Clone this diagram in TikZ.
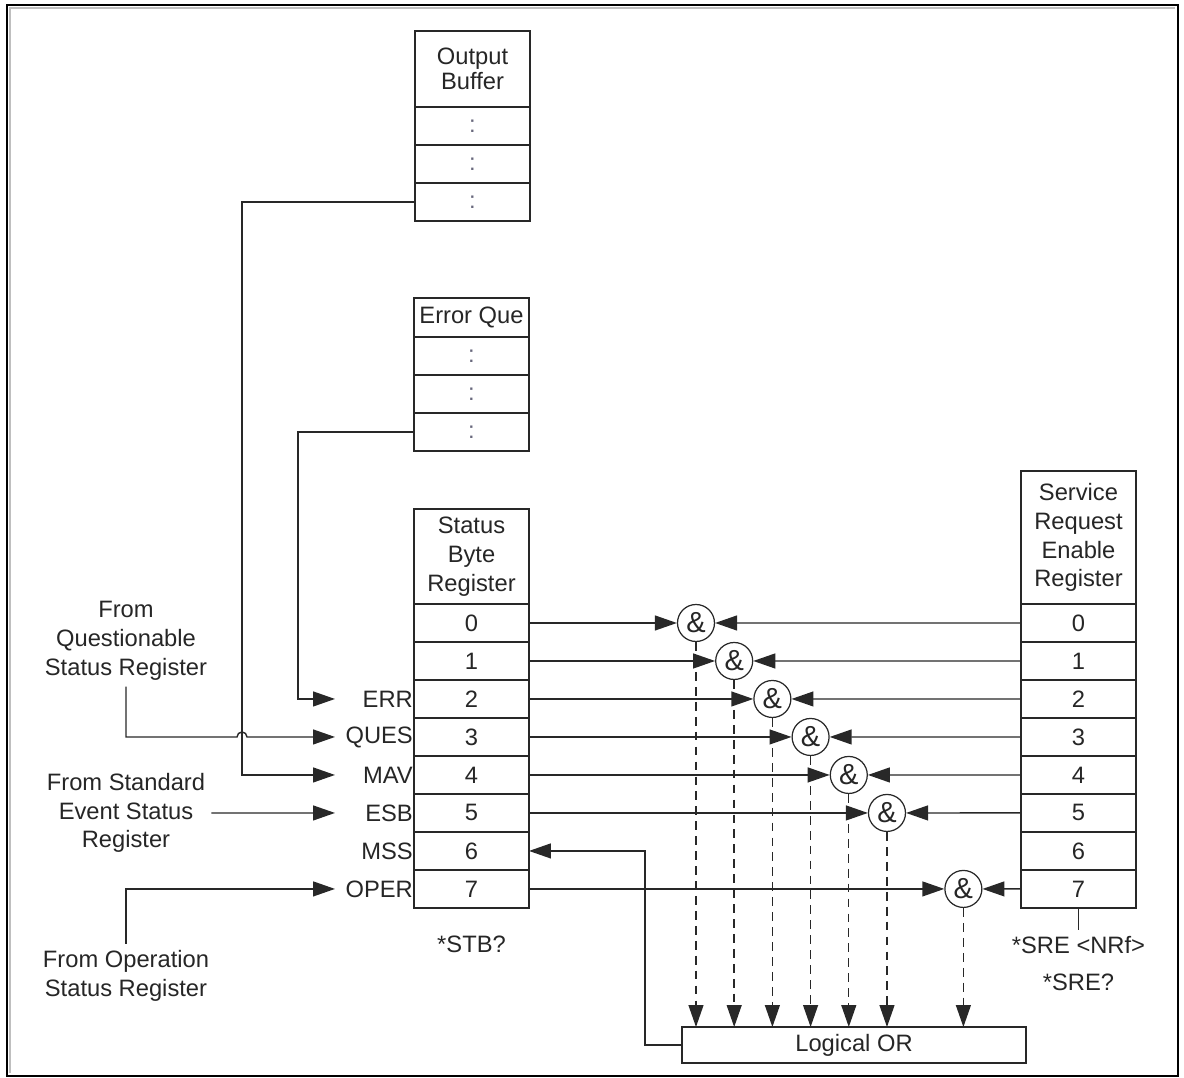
\documentclass[tikz,border=0pt]{standalone}
\usepackage{fontspec}
\setmainfont{Liberation Sans}
\usepackage{xcolor}
\usepackage{tikz}
\usetikzlibrary{arrows.meta,positioning,calc}
\definecolor{cLine}{RGB}{40,40,40}
\definecolor{cDots}{RGB}{105,105,125}
\newcommand{\dfont}{\fontsize{13.5pt}{16.4pt}\selectfont}
\tikzset{
  reg/.style={draw=cLine, line width=0.8pt, minimum width=23mm, minimum height=7.6mm,
              inner sep=0pt, outer sep=0pt, align=center, font=\dfont, text=black!85},
  andg/.style={draw=cLine, line width=0.7pt, circle, minimum size=7.4mm, inner sep=0pt,
              font=\fontsize{16.5pt}{18pt}\selectfont, text=black!85},
  wire/.style={draw=cLine, line width=0.8pt},
  arr/.style={wire, -{Triangle[length=12.5pt, width=8.5pt]}},
  darr/.style={arr, dash pattern=on 5pt off 3.5pt},
  lbl/.style={font=\dfont, text=black!85, align=center},
  bitlbl/.style={font=\dfont, text=black!85, anchor=east, inner sep=0.5pt},
}
\newcommand{\vd}{\textcolor{cDots}{:}}

\begin{document}
\begin{tikzpicture}[x=0.02cm, y=-0.02cm]
  \useasboundingbox (0,0) rectangle (1184,1078);
  % ---- frame ----
  \draw[black!25, line width=1pt] (10,1073) |- (1175,8);
  \draw[black, line width=1.2pt] (7,5) rectangle (1178,1076);

  % ---- output buffer / error queue ----
  \node[reg, minimum height=15.2mm, font=\fontsize{13.5pt}{14pt}\selectfont] (ob) at (472.5,69) {Output\\Buffer};
  \node[reg, below=0pt of ob] (ob1) {\vd};
  \node[reg, below=0pt of ob1] (ob2) {\vd};
  \node[reg, below=0pt of ob2] (ob3) {\vd};
  \node[reg, minimum height=7.8mm] (eq) at (471.5,317.5) {Error Que};
  \node[reg, below=0pt of eq] (eq1) {\vd};
  \node[reg, below=0pt of eq1] (eq2) {\vd};
  \node[reg, below=0pt of eq2] (eq3) {\vd};

  % ---- status byte register ----
  \node[reg, minimum height=19mm] (sb) at (471.5,556.5) {Status\\Byte\\Register};
  \node[reg, below=0pt of sb] (sb0) {0};
  \foreach \i [count=\j from 0] in {1,...,7}
    \node[reg, below=0pt of sb\j] (sb\i) {\i};
  \node[lbl, below=4.3mm of sb7] (stbq) {*STB?};

  % ---- service request enable register ----
  \node[reg, minimum height=26.6mm] (sre) at (1078.5,537.5) {Service\\Request\\Enable\\Register};
  \node[reg, below=0pt of sre] (sre0) {0};
  \foreach \i [count=\j from 0] in {1,...,7}
    \node[reg, below=0pt of sre\j] (sre\i) {\i};
  \node[lbl, below=4.4mm of sre7] (srecmd) {*SRE <NRf>};
  \node[lbl, below=1.5mm of srecmd] (sreq) {*SRE?};
  \draw[wire] (sre7.south) -- (srecmd.north);

  % ---- and gates into logical or ----
  \node[reg, minimum width=68.8mm, minimum height=7.2mm] (lor) at (854,1045) {Logical OR};
  \foreach \i in {0,1,2,3,4,5,7} {
    \node[andg] (and\i) at ($(sb\i.east)+({167+38.2*\i},0)$) {\&};
    \draw[arr] (sb\i.east) -- (and\i);
    \draw[arr] (sre\i.west) -- (and\i);
    \draw[darr] (and\i) -- (and\i |- lor.north);
  }
  \draw[arr] (lor.west) -- ++(-37,0) |- (sb6.east);

  % ---- inputs to the status byte ----
  \foreach \i/\lab in {2/ERR,3/QUES,4/MAV,5/ESB,6/MSS,7/OPER} {
    \node[bitlbl] (bit\i) at (sb\i.west) {\lab};
    \coordinate (in\i) at ($(sb\i.west)+(-79,0)$);
  }
  \node[lbl] (qsr) at (126,641) {From\\Questionable\\Status Register};
  \node[lbl] (esr) at (126,813) {From Standard\\Event Status\\Register};
  \node[lbl] (osr) at (126,975.5) {From Operation\\Status Register};
  \path (ob3.west) ++(-173,0) coordinate (mavx);
  \coordinate (hop) at (mavx |- in3);
  \draw[arr] (eq3.west) -- ++(-116,0) |- (in2);
  \draw[arr] (ob3.west) -- (mavx) |- (in4);
  \draw[arr] (qsr) |- ($(hop)+(-5,0)$) arc[start angle=180, end angle=0, radius=1mm] -- (in3);
  \draw[arr] (esr) -- (in5);
  \draw[arr] (osr) |- (in7);
\end{tikzpicture}
\end{document}
